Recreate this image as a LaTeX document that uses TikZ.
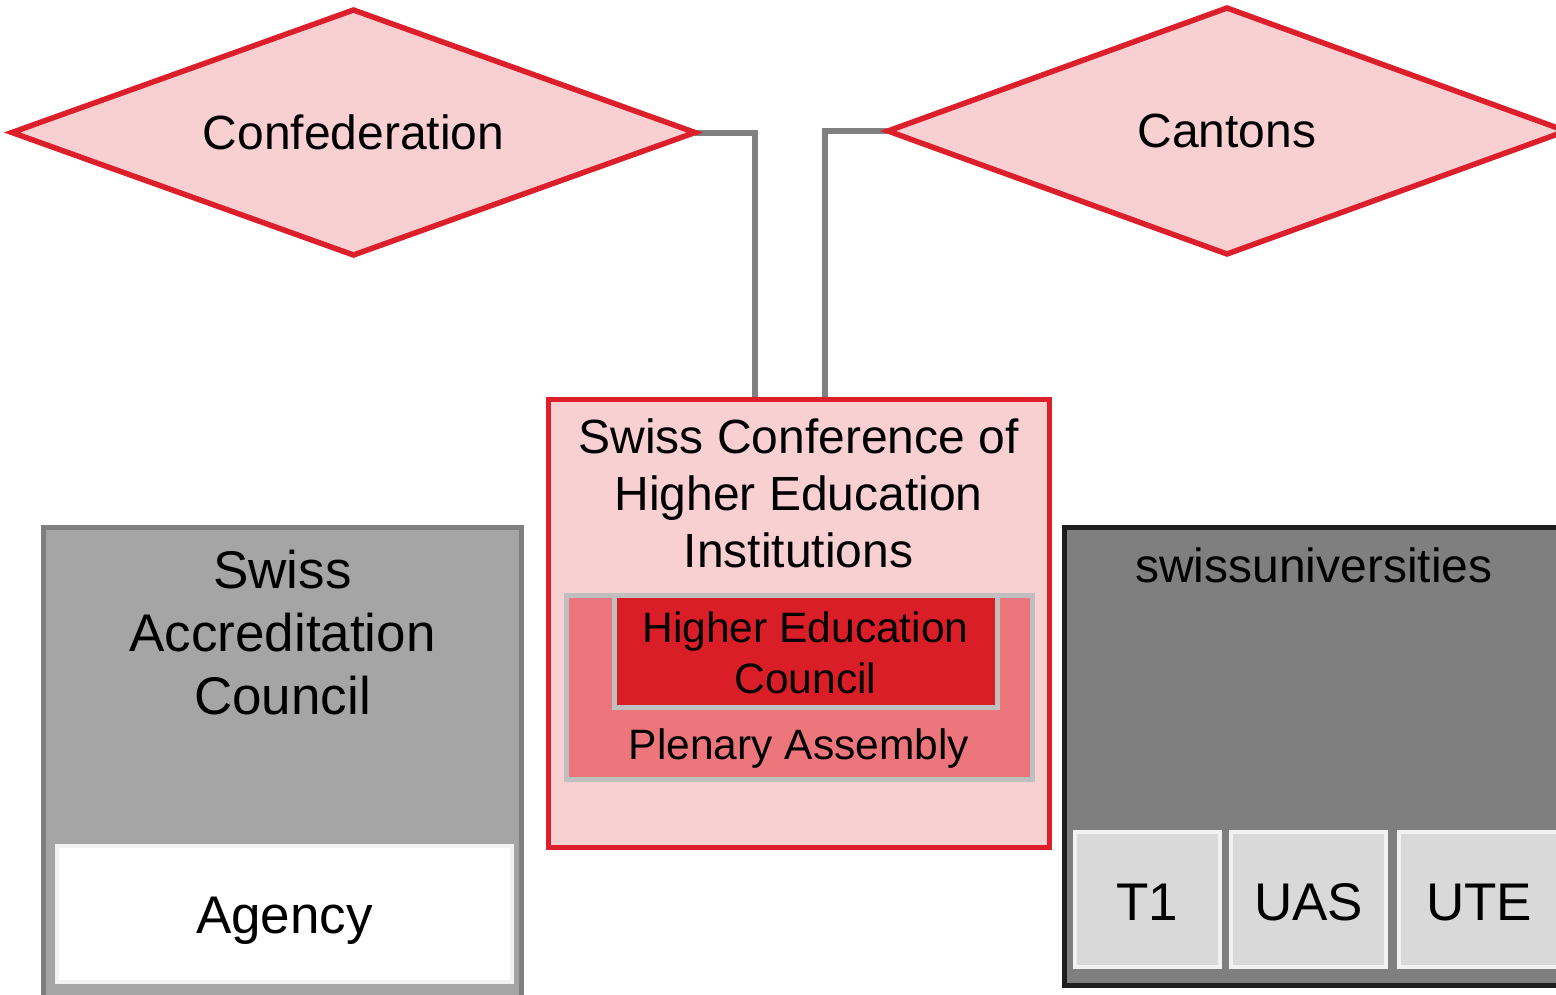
\documentclass[tikz,border=0pt]{standalone}
\usepackage{fontspec}
\setmainfont{Liberation Sans}
\usepackage{xcolor}
\usepackage{tikz}
\usetikzlibrary{shapes.geometric, backgrounds}

\definecolor{pinkfill}{HTML}{F8D0D2}
\definecolor{redline}{HTML}{DC1F2B}
\definecolor{hecred}{HTML}{DA1E28}
\definecolor{salmon}{HTML}{EC767C}
\definecolor{linkgray}{HTML}{808080}
\definecolor{framegray}{HTML}{BFBFBF}
\definecolor{paleline}{HTML}{F2F2F2}
\definecolor{sacgray}{HTML}{A5A5A5}
\definecolor{sugray}{HTML}{7F7F7F}
\definecolor{darkline}{HTML}{1E1E1E}
\definecolor{typegray}{HTML}{D9D9D9}

\begin{document}
\begin{tikzpicture}[x=1pt, y=-1pt,
  body/.style={rectangle, anchor=north west, inner sep=0pt, outer sep=0pt},
  rhomb/.style={diamond, aspect=2.8, draw=redline, fill=pinkfill, line width=5.5pt,
    inner sep=0pt, outer sep=0pt, font=\fontsize{48}{58}\selectfont},
  link/.style={draw=linkgray, line width=6pt},
  big/.style={inner sep=0pt, align=center, font=\fontsize{53}{63}\selectfont},
  mid/.style={inner sep=0pt, align=center, font=\fontsize{48}{57}\selectfont},
  small/.style={inner sep=0pt, align=center, font=\fontsize{42.5}{51}\selectfont},
  typebox/.style={body, fill=typegray, draw=paleline, line width=4pt, minimum height=135pt}]
  \useasboundingbox (0,0) rectangle (1556,994);

  % Draw the two bodies on top
  \node[rhomb, minimum width=683pt, minimum height=245pt] (conf) at (353.5,132.5) {Confederation};
  \node[rhomb, minimum width=678pt, minimum height=246pt] (cant) at (1227,131) {Cantons};

  % Draw the conference with its assembly and council
  \node[body, fill=pinkfill, draw=redline, line width=5pt,
    minimum width=501pt, minimum height=448pt] (schei) at (548,399) {};
  \node[mid, anchor=north] (scheitext) at (798.5,419) {Swiss Conference of\\Higher Education\\Institutions};
  \node[body, fill=salmon, draw=framegray, line width=5pt,
    minimum width=466pt, minimum height=184pt] (plen) at (566,595) {};
  \node[body, fill=hecred, draw=framegray, line width=5pt,
    minimum width=383pt, minimum height=112pt] (hec) at (614,595) {};
  \node[small, anchor=north] (hectext) at (805.5,611) {Higher Education\\Council};
  \node[small, anchor=base] (plentext) at (799,759) {Plenary Assembly};

  % Draw the accreditation council
  \node[body, fill=sacgray, draw=sugray, line width=5pt,
    minimum width=478pt, minimum height=490pt] (sac) at (43,527) {};
  \node[big, anchor=north] (sactext) at (282.5,550) {Swiss\\Accreditation\\Council};
  \node[body, fill=white, draw=paleline, line width=4pt,
    minimum width=455pt, minimum height=136pt] (agency) at (57,846) {};
  \node[big, anchor=base] (agencytext) at (284.5,933) {Agency};

  % Draw swissuniversities and its chambers
  \node[body, fill=sugray, draw=darkline, line width=5pt,
    minimum width=500pt, minimum height=458pt] (su) at (1064,527) {};
  \node[mid, anchor=base] (sutext) at (1314,582) {swissuniversities};
  \node[typebox, minimum width=145pt] (t1) at (1075,832) {};
  \node[typebox, minimum width=155pt] (uas) at (1231,832) {};
  \node[typebox, minimum width=165pt] (ute) at (1399,832) {};
  \node[big, anchor=base] (t1text) at (1147.5,920) {T1};
  \node[big, anchor=base] (uastext) at (1308.5,920) {UAS};
  \node[big, anchor=base] (utetext) at (1479,920) {UTE};

  % Draw the links to the conference
  \coordinate (confin) at (755,399);
  \coordinate (cantin) at (825,399);
  \begin{scope}[on background layer]
    \draw[link] (conf.east) -| (confin);
    \draw[link] (cant.west) -| (cantin);
  \end{scope}
\end{tikzpicture}
\end{document}
